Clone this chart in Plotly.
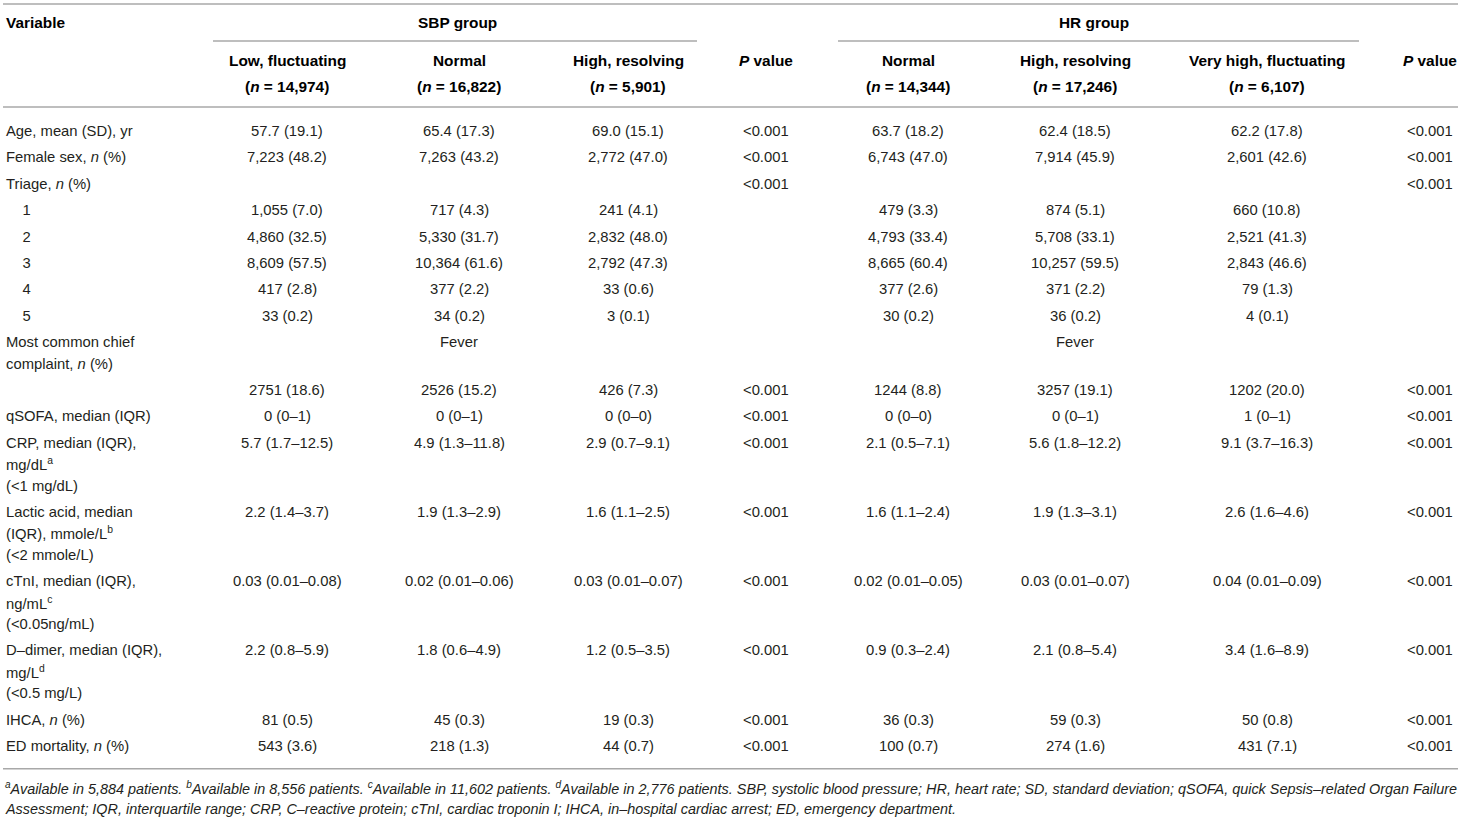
import plotly.graph_objects as go

# ---- table content ----
variables = [
    'Age, mean (SD), yr',
    'Female sex, <i>n</i> (%)',
    'Triage, <i>n</i> (%)',
    '    1', '    2', '    3', '    4', '    5',
    'Most common chief\ncomplaint, <i>n</i> (%)',
    '',
    'qSOFA, median (IQR)',
    'CRP, median (IQR),\nmg/dL<sup>a</sup>\n(&lt;1 mg/dL)',
    'Lactic acid, median\n(IQR), mmole/L<sup>b</sup>\n(&lt;2 mmole/L)',
    'cTnI, median (IQR),\nng/mL<sup>c</sup>\n(&lt;0.05ng/mL)',
    'D–dimer, median (IQR),\nmg/L<sup>d</sup>\n(&lt;0.5 mg/L)',
    'IHCA, <i>n</i> (%)',
    'ED mortality, <i>n</i> (%)',
]

sbp_low = ['57.7 (19.1)', '7,223 (48.2)', '', '1,055 (7.0)', '4,860 (32.5)', '8,609 (57.5)',
           '417 (2.8)', '33 (0.2)', '', '2751 (18.6)', '0 (0–1)', '5.7 (1.7–12.5)',
           '2.2 (1.4–3.7)', '0.03 (0.01–0.08)', '2.2 (0.8–5.9)', '81 (0.5)', '543 (3.6)']
sbp_normal = ['65.4 (17.3)', '7,263 (43.2)', '', '717 (4.3)', '5,330 (31.7)', '10,364 (61.6)',
              '377 (2.2)', '34 (0.2)', 'Fever', '2526 (15.2)', '0 (0–1)', '4.9 (1.3–11.8)',
              '1.9 (1.3–2.9)', '0.02 (0.01–0.06)', '1.8 (0.6–4.9)', '45 (0.3)', '218 (1.3)']
sbp_high = ['69.0 (15.1)', '2,772 (47.0)', '', '241 (4.1)', '2,832 (48.0)', '2,792 (47.3)',
            '33 (0.6)', '3 (0.1)', '', '426 (7.3)', '0 (0–0)', '2.9 (0.7–9.1)',
            '1.6 (1.1–2.5)', '0.03 (0.01–0.07)', '1.2 (0.5–3.5)', '19 (0.3)', '44 (0.7)']
sbp_p = ['&lt;0.001', '&lt;0.001', '&lt;0.001', '', '', '', '', '', '', '&lt;0.001', '&lt;0.001',
         '&lt;0.001', '&lt;0.001', '&lt;0.001', '&lt;0.001', '&lt;0.001', '&lt;0.001']
hr_normal = ['63.7 (18.2)', '6,743 (47.0)', '', '479 (3.3)', '4,793 (33.4)', '8,665 (60.4)',
             '377 (2.6)', '30 (0.2)', '', '1244 (8.8)', '0 (0–0)', '2.1 (0.5–7.1)',
             '1.6 (1.1–2.4)', '0.02 (0.01–0.05)', '0.9 (0.3–2.4)', '36 (0.3)', '100 (0.7)']
hr_high = ['62.4 (18.5)', '7,914 (45.9)', '', '874 (5.1)', '5,708 (33.1)', '10,257 (59.5)',
           '371 (2.2)', '36 (0.2)', 'Fever', '3257 (19.1)', '0 (0–1)', '5.6 (1.8–12.2)',
           '1.9 (1.3–3.1)', '0.03 (0.01–0.07)', '2.1 (0.8–5.4)', '59 (0.3)', '274 (1.6)']
hr_very = ['62.2 (17.8)', '2,601 (42.6)', '', '660 (10.8)', '2,521 (41.3)', '2,843 (46.6)',
           '79 (1.3)', '4 (0.1)', '', '1202 (20.0)', '1 (0–1)', '9.1 (3.7–16.3)',
           '2.6 (1.6–4.6)', '0.04 (0.01–0.09)', '3.4 (1.6–8.9)', '50 (0.8)', '431 (7.1)']
hr_p = sbp_p

group_labels = ['SBP group', 'HR group']
sub_headers = ['Low, fluctuating', 'Normal', 'High, resolving', '<i>P</i> value',
               'Normal', 'High, resolving', 'Very high, fluctuating', '<i>P</i> value']
sub_counts = ['(<i>n</i> = 14,974)', '(<i>n</i> = 16,822)', '(<i>n</i> = 5,901)', '',
              '(<i>n</i> = 14,344)', '(<i>n</i> = 17,246)', '(<i>n</i> = 6,107)', '']

footnote = [
    '<sup>a</sup>Available in 5,884 patients. <sup>b</sup>Available in 8,556 patients. '
    '<sup>c</sup>Available in 11,602 patients. <sup>d</sup>Available in 2,776 patients. '
    'SBP, systolic blood pressure; HR, heart rate; SD, standard deviation; qSOFA, quick Sepsis–related Organ Failure',
    'Assessment; IQR, interquartile range; CRP, C–reactive protein; cTnI, cardiac troponin I; '
    'IHCA, in–hospital cardiac arrest; ED, emergency department.',
]

# ---- layout settings ----
W, H = 1461, 818
FONT = 'Liberation Sans, Arial, Helvetica, sans-serif'
TXT = '#231f20'
RULE = '#a8a8a8'
SIZE = 14.8
HEAD_SIZE = 15.4
col_x = [287, 459, 628, 766, 908, 1075, 1267, 1430]
left_x = 4
LINE, PAD = 21.4, 5.0
first_center = 131

columns = [sbp_low, sbp_normal, sbp_high, sbp_p, hr_normal, hr_high, hr_very, hr_p]

fig = go.Figure()
ann = []


def add_text(x, y, text, anchor='center', bold=False, italic=False, size=SIZE, color=TXT):
    if bold:
        text = '<b>' + text + '</b>'
    if italic:
        text = '<i>' + text + '</i>'
    ann.append(dict(x=x, y=y, xref='x', yref='y', text=text, showarrow=False,
                    xanchor=anchor, yanchor='middle', align=anchor,
                    font=dict(family=FONT, size=size, color=color)))


# header
add_text(left_x, 22, 'Variable', anchor='left', bold=True, color='black', size=HEAD_SIZE)
add_text((col_x[0] + col_x[2]) / 2, 22, group_labels[0], bold=True, color='black', size=HEAD_SIZE)
add_text((col_x[4] + col_x[6]) / 2 + 6, 22, group_labels[1], bold=True, color='black', size=HEAD_SIZE)
for x, h, c in zip(col_x, sub_headers, sub_counts):
    add_text(x, 60, h, bold=True, color='black', size=HEAD_SIZE)
    if c:
        add_text(x, 86, c, bold=True, color='black', size=HEAD_SIZE)

# body
y_top = first_center - LINE / 2
for i, var in enumerate(variables):
    lines = var.split('\n')
    for k, ln in enumerate(lines):
        if ln:
            add_text(left_x, y_top + LINE * k + LINE / 2, ln.replace('    ', '\u00a0' * 4), anchor='left')
    for x, col in zip(col_x, columns):
        if col[i]:
            add_text(x, y_top + LINE / 2, col[i])
    y_top += LINE * len(lines) + PAD

bottom_rule = y_top - PAD + 12

for k, ln in enumerate(footnote):
    add_text(left_x - 1, bottom_rule + 19 + 21 * k, ln, anchor='left', italic=True, size=14.4)

# rules
rules = [(3, W - 3, 4), (213, 697, 41), (838, 1359, 41), (3, W - 3, 107), (3, W - 3, bottom_rule)]
shapes = [dict(type='line', xref='x', yref='y', x0=a, x1=b, y0=y, y1=y,
               line=dict(color=RULE, width=1.6)) for a, b, y in rules]

fig.update_layout(
    width=W, height=H,
    margin=dict(l=0, r=0, t=0, b=0),
    paper_bgcolor='white', plot_bgcolor='white',
    xaxis=dict(range=[0, W], visible=False, fixedrange=True),
    yaxis=dict(range=[H, 0], visible=False, fixedrange=True),
    annotations=ann, shapes=shapes, showlegend=False,
)

fig.write_html('out.html', config={'displayModeBar': False},
               post_script="document.body.style.margin='0';document.body.style.overflow='hidden';")
